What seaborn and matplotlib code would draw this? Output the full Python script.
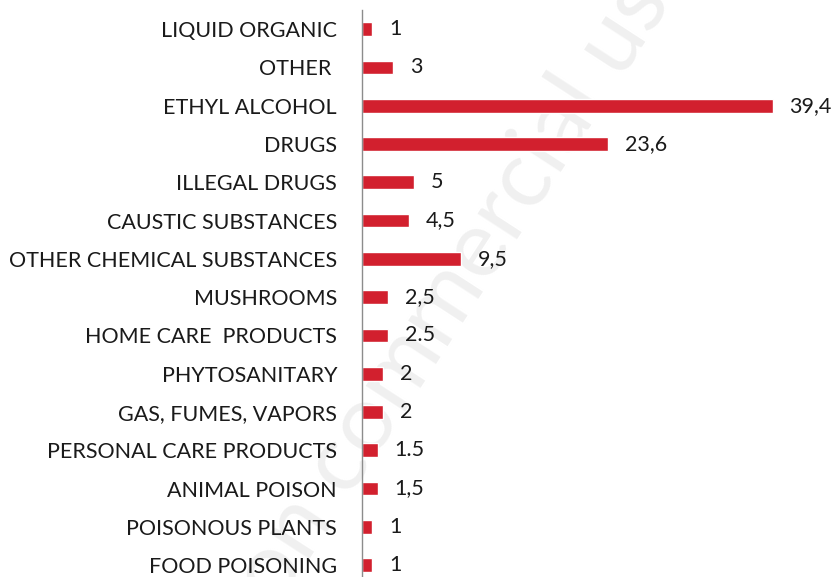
import pandas as pd
import seaborn as sns
import matplotlib.pyplot as plt

categorias = ["LIQUID ORGANIC", "OTHER ", "ETHYL ALCOHOL", "DRUGS", "ILLEGAL DRUGS",
              "CAUSTIC SUBSTANCES", "OTHER CHEMICAL SUBSTANCES", "MUSHROOMS",
              "HOME CARE  PRODUCTS", "PHYTOSANITARY", "GAS, FUMES, VAPORS",
              "PERSONAL CARE PRODUCTS", "ANIMAL POISON", "POISONOUS PLANTS",
              "FOOD POISONING"]
valores = [1, 3, 39.4, 23.6, 5, 4.5, 9.5, 2.5, 2.5, 2, 2, 1.5, 1.5, 1, 1]
etiquetas = ["1", "3", "39,4", "23,6", "5", "4,5", "9,5", "2,5", "2.5", "2", "2",
             "1.5", "1,5", "1", "1"]

df = pd.DataFrame({"categoria": categorias, "valor": valores})

sns.set_style("white")
plt.rcParams['font.family'] = ['Lato', 'DejaVu Sans']

fig = plt.figure(figsize=(8.36, 5.77), dpi=100)
ax = fig.add_axes([362 / 836, 0, 469 / 836, 567 / 577])
ax.set_zorder(1)
ax.patch.set_alpha(0)

# marca de agua
fig.text(0.535, 0.48, "Non commercial use", rotation=57, fontsize=68,
         fontweight="normal", color="#f0f0f0", ha="center", va="center",
         rotation_mode="anchor", zorder=-5)

sns.barplot(data=df, x="valor", y="categoria", orient="h", color="#d2202e",
            saturation=1, width=0.36, ax=ax, errorbar=None)

for i, (v, t) in enumerate(zip(valores, etiquetas)):
    ax.text(v + 1.6, i, t, va="center", ha="left", fontsize=15.5, color="#1a1a1a")

ax.set_xlim(0, 45)
ax.set_ylim(14.31, -0.5)
ax.set_xlabel("")
ax.set_ylabel("")
ax.set_xticks([])
ax.tick_params(axis="y", length=0, pad=18, labelsize=15.5, labelcolor="#1a1a1a")
for s in ["top", "right", "bottom"]:
    ax.spines[s].set_visible(False)
ax.spines["left"].set_color("#8c8c8c")
ax.spines["left"].set_linewidth(1.0)

plt.savefig("out.png", dpi=100)
plt.close()
